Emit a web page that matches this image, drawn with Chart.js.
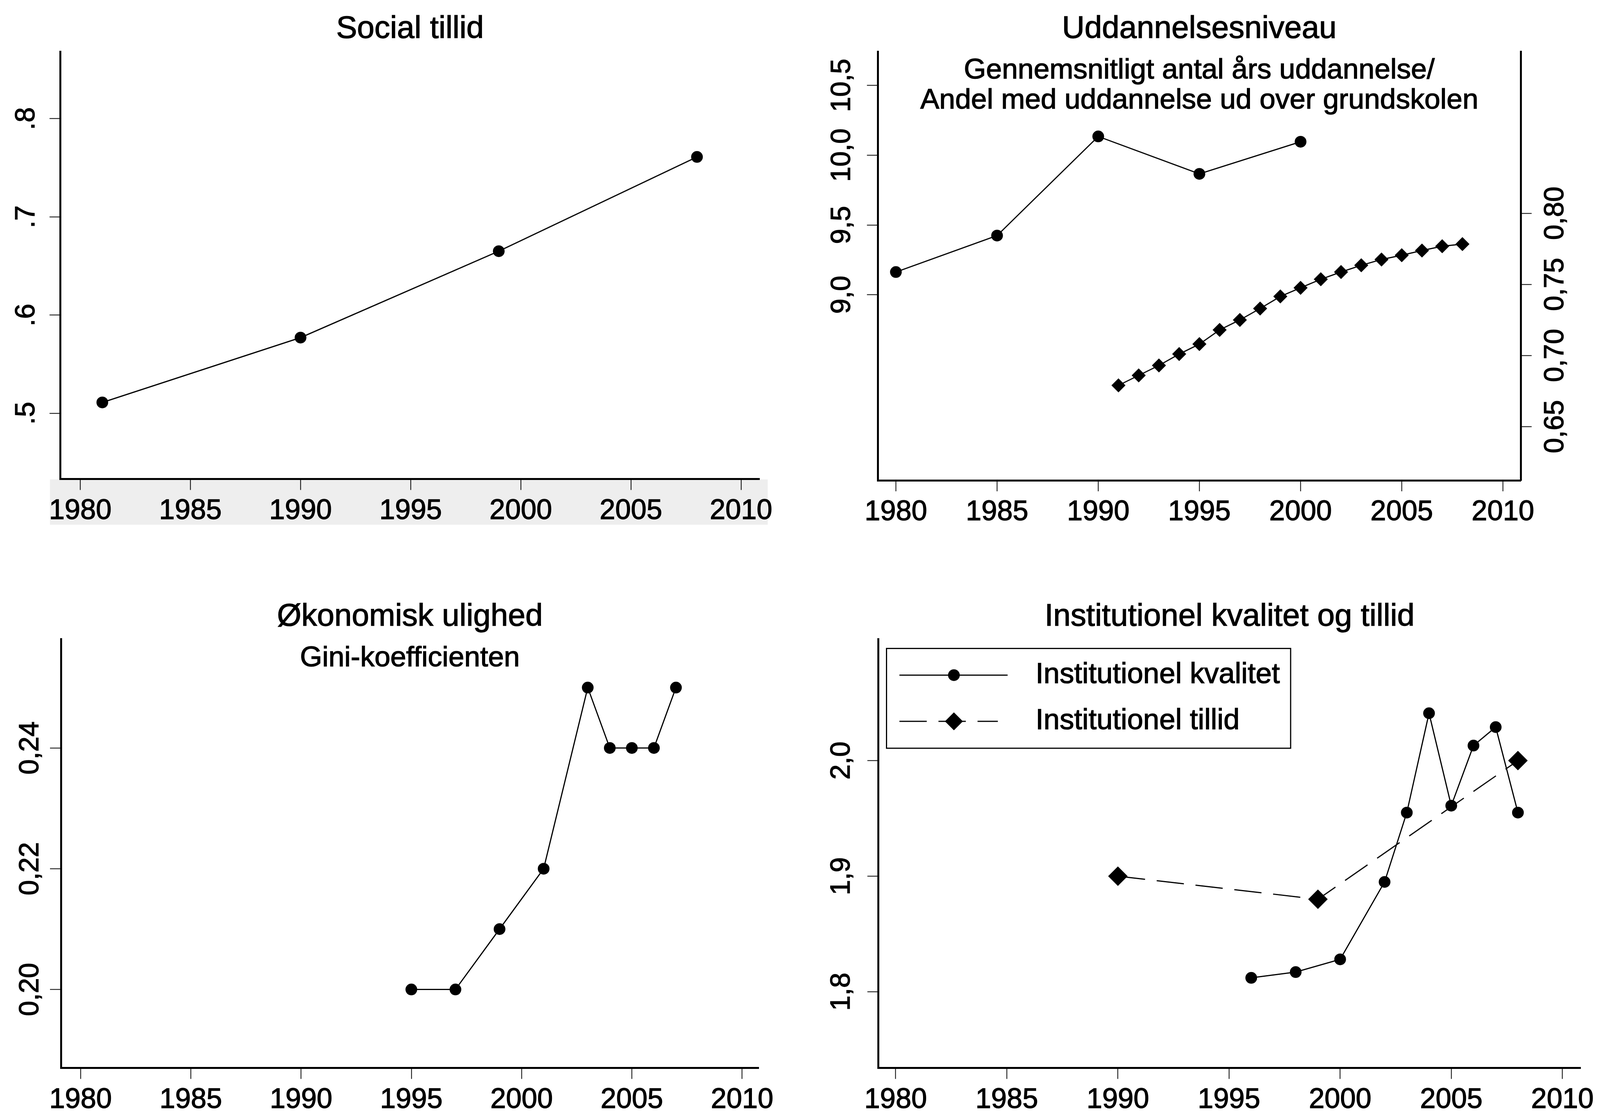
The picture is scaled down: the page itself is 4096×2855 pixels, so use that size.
<!DOCTYPE html>
<html>
<head>
<meta charset="utf-8">
<script src="https://cdn.jsdelivr.net/npm/chart.js@4"></script>
<style>
  html, body { margin: 0; padding: 0; background: #fff; }
  #wrap { position: relative; width: 4096px; height: 2855px; overflow: hidden; background: #fff; }
  canvas { position: absolute; }
</style>
</head>
<body>
<div id="wrap">
  <canvas id="c1" width="2048" height="1427" style="left:0px;top:0px"></canvas>
  <canvas id="c2" width="2048" height="1427" style="left:2048px;top:0px"></canvas>
  <canvas id="c3" width="2048" height="1428" style="left:0px;top:1427px"></canvas>
  <canvas id="c4" width="2048" height="1428" style="left:2048px;top:1427px"></canvas>
</div>
<script>
// year ticks shared by all four panels
const xTicks = [1980, 1985, 1990, 1995, 2000, 2005, 2010]

// Social tillid
const trustYears = [1981, 1990, 1999, 2008]
const trustValues = [0.511, 0.577, 0.665, 0.761]
const trustTicks = [0.5, 0.6, 0.7, 0.8]
const trustTickLabels = ['.5', '.6', '.7', '.8']

// Uddannelsesniveau
const eduYearYears = [1980, 1985, 1990, 1995, 2000]
const eduYearValues = [9.163, 9.424, 10.134, 9.866, 10.096]
const eduShareYears = [1991, 1992, 1993, 1994, 1995, 1996, 1997, 1998, 1999, 2000, 2001, 2002, 2003, 2004, 2005, 2006, 2007, 2008]
const eduShareValues = [0.679, 0.686, 0.693, 0.701, 0.708, 0.718, 0.725, 0.733, 0.7415, 0.7476, 0.7536, 0.7587, 0.7634, 0.7675, 0.7705, 0.7738, 0.7768, 0.7783]
const eduYearTicks = [9.0, 9.5, 10.0, 10.5]
const eduYearTickLabels = ['9,0', '9,5', '10,0', '10,5']
const eduShareTicks = [0.65, 0.70, 0.75, 0.80]
const eduShareTickLabels = ['0,65', '0,70', '0,75', '0,80']

// Økonomisk ulighed
const giniYears = [1995, 1997, 1999, 2001, 2003, 2004, 2005, 2006, 2007]
const giniValues = [0.20, 0.20, 0.21, 0.22, 0.25, 0.24, 0.24, 0.24, 0.25]
const giniTicks = [0.20, 0.22, 0.24]
const giniTickLabels = ['0,20', '0,22', '0,24']

// Institutionel kvalitet og tillid
const qualityYears = [1996, 1998, 2000, 2002, 2003, 2004, 2005, 2006, 2007, 2008]
const qualityValues = [1.812, 1.817, 1.828, 1.895, 1.955, 2.041, 1.961, 2.013, 2.029, 1.955]
const instTrustYears = [1990, 1999, 2008]
const instTrustValues = [1.90, 1.88, 2.00]
const instTicks = [1.8, 1.9, 2.0]
const instTickLabels = ['1,8', '1,9', '2,0']

const FONT = '"Liberation Sans", Arial, sans-serif'
Chart.defaults.font.family = FONT
Chart.defaults.color = '#000'

function points(xs, ys) {
    return xs.map((x, i) => ({x: x, y: ys[i]}))
}

function series(label, xs, ys, style) {
    return Object.assign({
        label: label,
        data: points(xs, ys),
        yAxisID: 'y',
        borderColor: '#000',
        backgroundColor: '#000',
        pointBackgroundColor: '#000',
        pointBorderWidth: 0,
        borderWidth: 3,
        pointStyle: 'circle',
        pointRadius: 15,
        tension: 0,
        fill: false
    }, style || {})
}

function xAxis(min, max, height) {
    return {
        type: 'linear', position: 'bottom', min: min, max: max, bounds: 'data',
        afterBuildTicks: s => { s.ticks = xTicks.map(v => ({value: v})) },
        afterFit: s => { s.height = height },
        ticks: {autoSkip: false, maxRotation: 0, padding: 11, font: {size: 72}, color: '#000',
                textStrokeColor: '#000', textStrokeWidth: 1.5,
                callback: (v, i) => String(xTicks[i])},
        grid: {drawOnChartArea: false, tickLength: 28, tickWidth: 2, tickColor: '#000'},
        border: {color: '#000', width: 5}
    }
}

function yAxis(min, max, ticks, labels, width, position, pad) {
    return {
        type: 'linear', position: position, min: min, max: max, bounds: 'data',
        afterBuildTicks: s => { s.ticks = ticks.map(v => ({value: v})) },
        afterFit: s => { s.width = width },
        ticks: {autoSkip: false, minRotation: 90, maxRotation: 90, crossAlign: 'center', padding: pad,
                font: {size: 70}, color: '#000', textStrokeColor: '#000', textStrokeWidth: 1.5,
                callback: (v, i) => labels[i]},
        grid: {drawOnChartArea: false, tickLength: 28, tickWidth: 2, tickColor: '#000'},
        border: {color: '#000', width: 5}
    }
}

// titles and subtitles, centred over the plot area
const panelText = {
    id: 'panelText',
    afterDraw(chart, args, opts) {
        const ctx = chart.ctx, a = chart.chartArea
        const cx = (a.left + a.right) / 2
        ctx.save()
        ctx.fillStyle = '#000'
        ctx.strokeStyle = '#000'
        ctx.lineWidth = 1.5
        ctx.textAlign = 'center'
        ctx.textBaseline = 'middle'
        ;(opts.lines || []).forEach(l => {
            ctx.font = l.size + 'px ' + FONT
            ctx.fillText(l.text, cx, l.y)
            ctx.strokeText(l.text, cx, l.y)
        })
        ctx.restore()
    }
}

// light grey strip behind the year labels of the first panel
const labelStrip = {
    id: 'labelStrip',
    beforeDraw(chart, args, opts) {
        if (!opts.show) return
        const ctx = chart.ctx, a = chart.chartArea
        ctx.save()
        ctx.fillStyle = '#eeeeee'
        ctx.fillRect(a.left - 27, a.bottom + 1, a.right - a.left + 48, 116)
        ctx.restore()
    }
}

function marker(ctx, style, r, x, y) {
    ctx.beginPath()
    if (style === 'rectRot') {
        ctx.moveTo(x - r, y); ctx.lineTo(x, y - r); ctx.lineTo(x + r, y); ctx.lineTo(x, y + r)
        ctx.closePath()
    } else {
        ctx.arc(x, y, r, 0, Math.PI * 2)
    }
    ctx.fill()
}

// boxed legend drawn from the datasets of the chart
const boxLegend = {
    id: 'boxLegend',
    afterDraw(chart, args, o) {
        if (!o.show) return
        const ctx = chart.ctx, a = chart.chartArea
        const x0 = a.left + o.left, y0 = a.top + o.top
        ctx.save()
        ctx.fillStyle = '#fff'
        ctx.fillRect(x0, y0, o.width, o.height)
        ctx.strokeStyle = '#000'
        ctx.fillStyle = '#000'
        ctx.lineWidth = 3
        ctx.strokeRect(x0, y0, o.width, o.height)
        chart.data.datasets.forEach((ds, i) => {
            const y = y0 + o.rows[i]
            ctx.lineWidth = ds.borderWidth
            ctx.setLineDash(ds.borderDash || [])
            ctx.beginPath()
            ctx.moveTo(x0 + o.lineStart, y)
            ctx.lineTo(x0 + o.lineEnd[i], y)
            ctx.stroke()
            ctx.setLineDash([])
            marker(ctx, ds.pointStyle, o.markRadius[i], x0 + o.markX, y)
            ctx.font = o.size + 'px ' + FONT
            ctx.textAlign = 'left'
            ctx.textBaseline = 'middle'
            ctx.lineWidth = 1.5
            ctx.fillText(ds.label, x0 + o.textX, y)
            ctx.strokeText(ds.label, x0 + o.textX, y)
        })
        ctx.restore()
    }
}

function makeChart(id, datasets, scales, padding, plugins) {
    return new Chart(document.getElementById(id), {
        type: 'line',
        data: {datasets: datasets},
        options: {
            responsive: false,
            animation: false,
            devicePixelRatio: 1,
            events: [],
            layout: {padding: padding},
            scales: scales,
            plugins: Object.assign({legend: {display: false}, tooltip: {enabled: false}}, plugins)
        },
        plugins: [labelStrip, panelText, boxLegend]
    })
}

makeChart('c1',
    [series('Social tillid', trustYears, trustValues)],
    {x: xAxis(1979.1, 2010.84, 200.4), y: yAxis(0.433, 0.868, trustTicks, trustTickLabels, 154.8, 'left', 29)},
    {left: 0, top: 132.7, right: 103.6, bottom: 0},
    {labelStrip: {show: true}, panelText: {lines: [{text: 'Social tillid', y: 75, size: 80}]}})

makeChart('c2',
    [series('Gennemsnitligt antal års uddannelse', eduYearYears, eduYearValues),
     series('Andel med uddannelse ud over grundskolen', eduShareYears, eduShareValues,
            {yAxisID: 'y1', pointStyle: 'rectRot', pointRadius: 18})],
    {x: xAxis(1979.11, 2010.88, 197),
     y: yAxis(7.671, 10.74, eduYearTicks, eduYearTickLabels, 199.4, 'left', -5),
     y1: yAxis(0.6122, 0.9135, eduShareTicks, eduShareTickLabels, 203, 'right', -6)},
    {left: 0, top: 132.7, right: 0, bottom: 0},
    {panelText: {lines: [
        {text: 'Uddannelsesniveau', y: 75, size: 80},
        {text: 'Gennemsnitligt antal års uddannelse/', y: 181, size: 73},
        {text: 'Andel med uddannelse ud over grundskolen', y: 258, size: 73}]}})

makeChart('c3',
    [series('Gini-koefficienten', giniYears, giniValues)],
    {x: xAxis(1979.11, 2010.76, 120.4), y: yAxis(0.187, 0.258, giniTicks, giniTickLabels, 156, 'left', -19)},
    {left: 0, top: 209.9, right: 105.3, bottom: 0},
    {panelText: {lines: [
        {text: 'Økonomisk ulighed', y: 153, size: 80},
        {text: 'Gini-koefficienten', y: 259, size: 73}]}})

makeChart('c4',
    [series('Institutionel kvalitet', qualityYears, qualityValues),
     series('Institutionel tillid', instTrustYears, instTrustValues,
            {pointStyle: 'rectRot', pointRadius: 25, borderDash: [70, 30]})],
    {x: xAxis(1979.22, 2010.83, 120.4), y: yAxis(1.734, 2.105, instTicks, instTickLabels, 200.5, 'left', 16)},
    {left: 0, top: 209.9, right: 49.1, bottom: 0},
    {panelText: {lines: [{text: 'Institutionel kvalitet og tillid', y: 153, size: 80}]},
     boxLegend: {show: true, left: 21, top: 23.5, width: 1034.5, height: 255.5, rows: [68.3, 186.6],
                 lineStart: 33, lineEnd: [310, 285], markX: 172.5, markRadius: [15, 23], textX: 381.5, size: 74}})
</script>
</body>
</html>
